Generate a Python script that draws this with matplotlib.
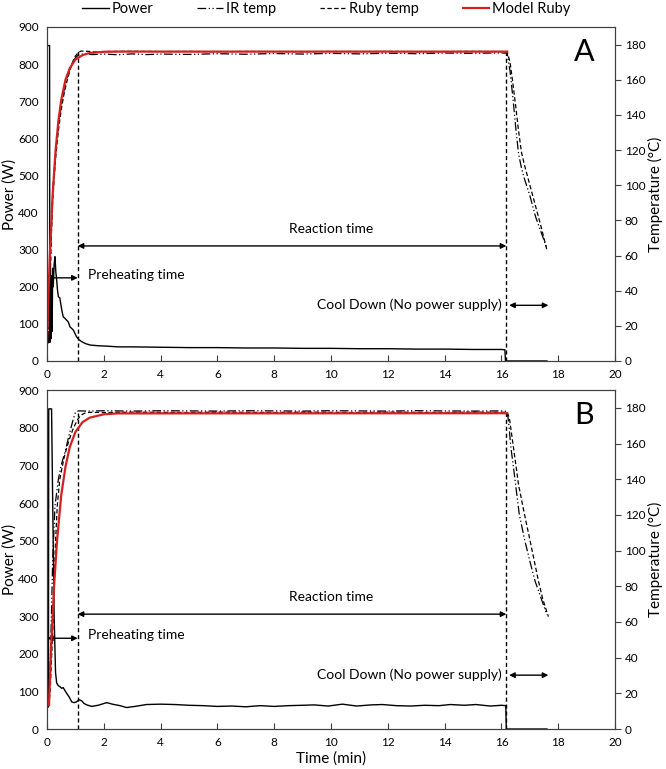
import matplotlib
matplotlib.use('agg')
import matplotlib.pyplot as plt

plt.rcParams['font.family'] = ['Lato', 'DejaVu Sans']

# ---- Panel A data ----
power_a_t = [0.0, 0.01, 0.09, 0.1, 0.12, 0.14, 0.16, 0.18, 0.2, 0.22, 0.25, 0.28,
             0.31, 0.34, 0.37, 0.4, 0.45, 0.52, 0.57, 0.63, 0.69, 0.75, 0.81, 0.93,
             1.04, 1.13, 1.22, 1.35, 1.51, 1.8, 2.1, 2.5, 3, 4, 5, 6, 7, 8, 9, 10,
             11, 12, 13, 14, 15, 16, 16.12, 16.14, 17.6]
power_a = [50, 850, 850, 50, 250, 60, 230, 80, 250, 200, 260, 281,
           240, 218, 190, 173, 170, 137, 119, 115, 110, 105, 92, 83,
           65, 57, 52, 47, 43, 41, 40, 38, 38, 37, 36, 36, 35, 35, 34, 34,
           33, 33, 32, 32, 31, 31, 30, 0, 0]

ir_a_t = [0.05, 0.1, 0.15, 0.2, 0.3, 0.4, 0.5, 0.6, 0.7, 0.8, 0.9, 1.0, 1.1, 1.3,
          1.6, 2.0, 2.5, 3, 3.5, 4, 5, 6, 7, 8, 9, 10, 11, 12, 13, 14, 15, 16,
          16.2, 16.3, 16.4, 16.5, 16.6, 16.7, 16.8, 17.0, 17.2, 17.4, 17.6]
ir_a = [12, 45, 75, 96, 118, 134, 145, 154, 161, 166, 170, 172.5, 174, 174.8,
        174.3, 174.6, 174.2, 174.7, 174.3, 174.6, 174.4, 174.8, 174.5, 174.9, 174.6, 175, 174.7, 175.1, 174.8, 175.2, 175, 175.3,
        175, 165, 150, 133, 118, 110, 104, 94, 82, 73, 64]

ruby_a_t = [0.05, 0.1, 0.15, 0.2, 0.3, 0.4, 0.5, 0.6, 0.7, 0.8, 0.9, 1.0, 1.1, 1.2,
            1.4, 1.7, 2.0, 3, 4, 5, 6, 7, 8, 9, 10, 11, 12, 13, 14, 15, 16,
            16.2, 16.3, 16.4, 16.5, 16.6, 16.7, 16.8, 17.0, 17.2, 17.4, 17.6]
ruby_a = [10, 38, 70, 92, 115, 131, 143, 152, 159, 165, 170, 173.5, 175.5, 176.3,
          176.2, 175.8, 176, 176.2, 176, 176.1, 175.9, 176.1, 176, 175.9, 176.1, 176, 176.1, 175.9, 176, 176.1, 176,
          176, 170, 158, 145, 131, 119, 112, 100, 88, 76, 63]

model_a_t = [0.0, 0.05, 0.1, 0.2, 0.3, 0.4, 0.5, 0.65, 0.8, 1.0, 1.25, 1.5, 2.0, 2.5, 16.2]
model_a = [11, 38, 60.5, 95, 119.5, 136.5, 148.5, 160, 166.5, 171.5, 174, 175.2, 175.9, 176, 176]

# ---- Panel B data ----
power_b_t = [0.0, 0.05, 0.06, 0.16, 0.2, 0.25, 0.3, 0.34, 0.4, 0.46, 0.52, 0.57,
             0.63, 0.69, 0.78, 0.87, 0.95, 1.04, 1.12, 1.22, 1.3, 1.4, 1.57, 1.8,
             2.1, 2.3, 2.57, 2.8, 3.1, 3.5, 4, 4.5, 5, 5.5, 6, 6.5, 7, 7.5, 8, 8.5,
             9, 9.4, 9.9, 10.4, 10.9, 11.4, 11.8, 12.3, 12.8, 13.3, 13.8, 14.2,
             14.7, 15.1, 15.6, 16.0, 16.15, 16.17, 17.6]
power_b = [60, 60, 850, 850, 600, 300, 150, 122, 115, 112, 108, 110,
           102, 95, 85, 72, 70, 72, 78, 75, 68, 64, 60, 63,
           70, 66, 62, 57, 60, 65, 66, 65, 63, 62, 60, 61, 59, 62, 60, 62,
           63, 64, 61, 66, 61, 64, 65, 62, 61, 63, 62, 65,
           63, 65, 61, 63, 62, 0, 0]

ir_b_t = [0.05, 0.1, 0.15, 0.2, 0.28, 0.4, 0.5, 0.63, 0.75, 0.87, 0.95, 1.0, 1.1,
          1.5, 2, 3, 4, 5, 6, 7, 8, 9, 10, 11, 12, 13, 14, 15, 16,
          16.2, 16.25, 16.33, 16.45, 16.62, 16.8, 17.0, 17.18, 17.4, 17.6]
ir_b = [12, 30, 60, 95, 125, 140, 148, 155, 163, 170.5, 175, 177.5, 178.3,
        178.2, 178.4, 178.2, 178.4, 178.3, 178.2, 178.4, 178.3, 178.2, 178.4, 178.3, 178.2, 178.4, 178.3, 178.2, 178.3,
        178, 172, 158, 143, 121, 107, 94, 83, 73, 64]

ruby_b_t = [0.07, 0.12, 0.2, 0.25, 0.3, 0.36, 0.45, 0.55, 0.6, 0.7, 0.8, 0.9, 1.0,
            1.1, 1.2, 1.35, 1.5, 2, 3, 4, 5, 6, 7, 8, 9, 10, 11, 12, 13, 14, 15, 16,
            16.2, 16.28, 16.35, 16.42, 16.6, 16.8, 17.0, 17.3, 17.45, 17.65]
ruby_b = [13, 25, 55, 80, 105, 125, 140, 148, 152, 158, 163, 167.5, 171,
          174, 176, 177.2, 177.5, 177.4, 177.6, 177.5, 177.4, 177.6, 177.5, 177.4, 177.6, 177.5, 177.4, 177.6, 177.5, 177.4, 177.6, 177.5,
          177.5, 174, 166, 158, 137, 121, 106, 83, 73, 63]

model_b_t = [0.07, 0.15, 0.25, 0.35, 0.5, 0.65, 0.8, 1.0, 1.25, 1.5, 2.0, 2.5, 16.2]
model_b = [13.5, 48, 80.5, 105, 131, 147, 158, 166.5, 172, 174.5, 176.4, 176.9, 177]

# annotation positions (time in min, power scale in W)
T_PREHEAT = 1.08
T_END = 16.17
T_COOL_END = 17.65

IR_DASH = (0, (7, 2, 1, 2, 1, 2))
SPINE = '#404040'


def draw_panel(ax, pt, p, it, ir, rt, ruby, mt, model, letter,
               v_top, y_react, y_pre, y_cool):
    ax2 = ax.twinx()
    l_pow, = ax.plot(pt, p, color='black', linewidth=1.0, label='Power')
    l_ir, = ax2.plot(it, ir, color='black', linewidth=0.9, linestyle=IR_DASH, label='IR temp')
    l_ruby, = ax2.plot(rt, ruby, color='black', linewidth=0.9, linestyle=(0, (3.5, 2)), label='Ruby temp')
    l_mod, = ax2.plot(mt, model, color='#d62020', linewidth=1.6, label='Model Ruby')

    # vertical markers
    ax.plot([T_PREHEAT, T_PREHEAT], [0, v_top], color='black', linewidth=1.0, linestyle=(0, (3, 2)))
    ax.plot([T_END, T_END], [0, v_top], color='black', linewidth=1.0, linestyle=(0, (3, 2)))

    arrow = dict(arrowstyle='<|-|>', color='black', lw=1.0, mutation_scale=8,
                 shrinkA=0, shrinkB=0)
    ax.annotate('', xy=(T_PREHEAT, y_react), xytext=(T_END, y_react), arrowprops=arrow)
    ax.text(10.0, y_react + 45, 'Reaction time', ha='center', va='center', fontsize=10)
    ax.annotate('', xy=(0, y_pre), xytext=(T_PREHEAT, y_pre), arrowprops=arrow)
    ax.text(1.45, y_pre + 8, 'Preheating time', ha='left', va='center', fontsize=10)
    ax.annotate('', xy=(T_END + 0.1, y_cool), xytext=(T_COOL_END, y_cool), arrowprops=arrow)
    ax.text(T_END - 0.15, y_cool + 2, 'Cool Down (No power supply)', ha='right', va='center', fontsize=10)
    ax.text(18.9, 833, letter, ha='center', va='center', fontsize=22)

    ax.set_xlim(0, 20)
    ax.set_ylim(0, 900)
    ax2.set_ylim(0, 190)
    ax.set_xticks(range(0, 21, 2))
    ax.set_yticks(range(0, 901, 100))
    ax2.set_yticks(range(0, 181, 20))
    ax.tick_params(axis='x', direction='in', length=4, labelsize=8.5, pad=6, color=SPINE)
    ax.tick_params(axis='y', length=0, labelsize=8.5, pad=6)
    ax2.tick_params(axis='y', direction='out', length=4, labelsize=8.5, pad=3, color=SPINE)
    for a in (ax, ax2):
        for s in a.spines.values():
            s.set_color(SPINE)
            s.set_linewidth(0.8)
    ax.set_ylabel('Power (W)', fontsize=11, labelpad=1)
    ax2.set_ylabel('Temperature (°C)', fontsize=11, labelpad=2)
    return [l_pow, l_ir, l_ruby, l_mod]


fig = plt.figure(figsize=(6.66, 7.69), dpi=100)
ax_a = fig.add_axes([0.0706, 0.5306, 0.853, 0.4343])
ax_b = fig.add_axes([0.0706, 0.052, 0.853, 0.4408])

handles = draw_panel(ax_a, power_a_t, power_a, ir_a_t, ir_a, ruby_a_t, ruby_a,
                     model_a_t, model_a, 'A', 834, 310, 224, 150)
draw_panel(ax_b, power_b_t, power_b, ir_b_t, ir_b, ruby_b_t, ruby_b,
           model_b_t, model_b, 'B', 840, 305, 241, 143)
ax_b.set_xlabel('Time (min)', fontsize=11, labelpad=2)

fig.legend(handles, [h.get_label() for h in handles], loc='upper center',
           bbox_to_anchor=(0.49, 1.014), ncol=4, frameon=False, fontsize=10.5,
           handlelength=1.8, handletextpad=0.2, columnspacing=3.0)

plt.savefig('out.png', dpi=100)
